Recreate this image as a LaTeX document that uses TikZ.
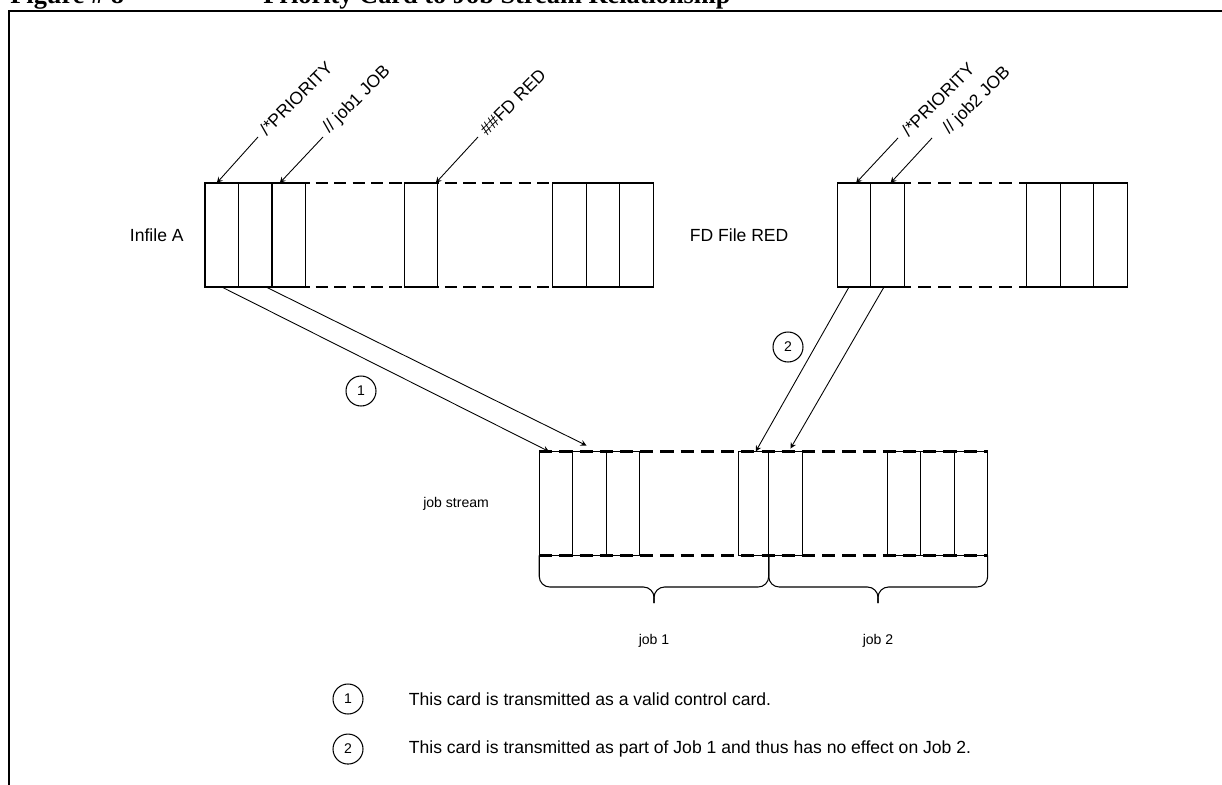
\documentclass[tikz,border=0pt]{standalone}
\usepackage{fontspec}
\setmainfont{Liberation Sans}
\newfontfamily\headserif{Liberation Serif}
\usepackage{tikz}
\usetikzlibrary{arrows, positioning}
\tikzstyle{card} = [draw, rectangle, line width=0.75pt, minimum width=0.67cm, minimum height=2.08cm, inner sep=0pt, outer sep=0pt]
\tikzstyle{thintape} = [line width=0.7pt, dash pattern=on 7pt off 3.5pt]
\tikzstyle{thicktape} = [line width=1.5pt, dash pattern=on 7.5pt off 4pt]
\tikzstyle{arrow} = [line width=0.5pt, ->, >=stealth]
\tikzstyle{numcircle} = [draw, circle, line width=0.6pt, minimum size=0.6cm, inner sep=0pt, font=\fontsize{8}{9}\selectfont]
\tikzstyle{lbl} = [inner sep=0pt, font=\fontsize{10}{12}\selectfont]
\tikzstyle{smalllbl} = [inner sep=0pt, font=\fontsize{8}{10}\selectfont]
\tikzstyle{tag} = [lbl, rotate=45, anchor=south west]
\tikzstyle{bracepath} = [line width=0.6pt, rounded corners=6pt]
\tikzstyle{titletext} = [inner sep=0pt, anchor=base west, font=\headserif\bfseries\fontsize{15}{18}\selectfont]

\begin{document}
\begin{tikzpicture}[x=0.02cm, y=-0.02cm]
    \useasboundingbox (0,0) rectangle (1222,784);
    \clip (0,0) rectangle (1222,784);
    % frame and heading
    \draw[line width=1.4pt] (9,800) -- (9,11) -- (1240,11);
    \node[titletext] (fig) at (10,4) {Figure \# 8};
    \node[titletext] (heading) at (263,4) {Priority Card to Job Stream Relationship};

    % Infile A
    \node[card] (a1) at (221.75,235) {};
    \node[card, right=0pt of a1] (a2) {};
    \node[card, right=0pt of a2] (a3) {};
    \node[card, right=1.975cm of a3] (a4) {};
    \node[card, right=2.3cm of a4] (a5) {};
    \node[card, right=0pt of a5] (a6) {};
    \node[card, right=0pt of a6] (a7) {};
    \draw[thintape] (a1.north west) -- (a7.north east);
    \draw[thintape] (a1.south west) -- (a7.south east);
    \node[lbl, left=0.42cm of a1] (infA) {Infile A};

    % FD File RED
    \node[card] (b1) at (854,235) {};
    \node[card, right=0pt of b1] (b2) {};
    \node[card, right=2.45cm of b2] (b3) {};
    \node[card, right=0pt of b3] (b4) {};
    \node[card, right=0pt of b4] (b5) {};
    \draw[thicktape] (b1.north west) -- (b5.north east);
    \draw[thicktape] (b1.south west) -- (b5.south east);
    \node[lbl, left=0.97cm of b1] (fdred) {FD File RED};

    % job stream
    \node[card] (j1) at (556,503.5) {};
    \node[card, right=0pt of j1] (j2) {};
    \node[card, right=0pt of j2] (j3) {};
    \node[card, minimum width=0.6cm, right=1.98cm of j3] (j4) {};
    \node[card, right=0pt of j4] (j5) {};
    \node[card, right=1.7cm of j5] (j6) {};
    \node[card, right=0pt of j6] (j7) {};
    \node[card, right=0pt of j7] (j8) {};
    \draw[thicktape] (j1.north west) -- (j8.north east);
    \draw[thicktape] (j1.south west) -- (j8.south east);
    \node[smalllbl, left=1.0cm of j1] (stream) {job stream};

    % control card tags
    \node[tag] (prioA) at (267,137) {/*PRIORITY};
    \node[tag] (jobA) at (332,137) {// job1 JOB};
    \node[tag] (fdA) at (487,137) {\#\#FD RED};
    \node[tag] (prioB) at (909,138) {/*PRIORITY};
    \node[tag] (jobB) at (952,138) {// job2 JOB};
    \draw[arrow] ([xshift=-0.18cm]prioA.south west) -- ([xshift=-0.1cm]a1.north);
    \draw[arrow] ([xshift=-0.18cm]jobA.south west) -- ([xshift=-0.18cm]a3.north);
    \draw[arrow] ([xshift=-0.18cm]fdA.south west) -- ([xshift=-0.04cm]a4.north east);
    \draw[arrow] ([xshift=-0.22cm]prioB.south west) -- ([xshift=0.04cm]b1.north);
    \draw[arrow] ([xshift=-0.4cm]jobB.south west) -- ([xshift=0.06cm]b2.north);

    % transfers
    \draw[arrow] (a1.south) -- ([xshift=-0.14cm]j1.north);
    \draw[arrow] ([xshift=-0.12cm]a2.south east) -- ([xshift=-0.06cm, yshift=0.12cm]j2.north);
    \draw[arrow] ([xshift=-0.1cm]b1.south) -- ([xshift=0.04cm]j4.north);
    \draw[arrow] ([xshift=-0.07cm]b2.south) -- ([xshift=0.1cm, yshift=0.06cm]j5.north);
    \node[numcircle] (n1) at (361,391) {1};
    \node[numcircle] (n2) at (788,347) {2};

    % braces under the stream
    \coordinate (k1) at (654,603);
    \coordinate (k2) at (878,603);
    \draw[bracepath] (j1.south west) |- (654,587) -- (k1);
    \draw[bracepath] (k1) -- (654,587) -| (j4.south east);
    \draw[bracepath] (j5.south west) |- (878,587) -- (k2);
    \draw[bracepath] (k2) -- (878,587) -| (j8.south east);
    \node[smalllbl, below=0.62cm of k1] (job1) {job 1};
    \node[smalllbl, below=0.62cm of k2] (job2) {job 2};

    % legend
    \node[numcircle] (lg1) at (348,699) {1};
    \node[numcircle, below=0.38cm of lg1] (lg2) {2};
    \node[lbl, right=0.9cm of lg1] (txt1) {This card is transmitted as a valid control card.};
    \node[lbl, right=0.9cm of lg2] (txt2) {This card is transmitted as part of Job 1 and thus has no effect on Job 2.};
\end{tikzpicture}
\end{document}
